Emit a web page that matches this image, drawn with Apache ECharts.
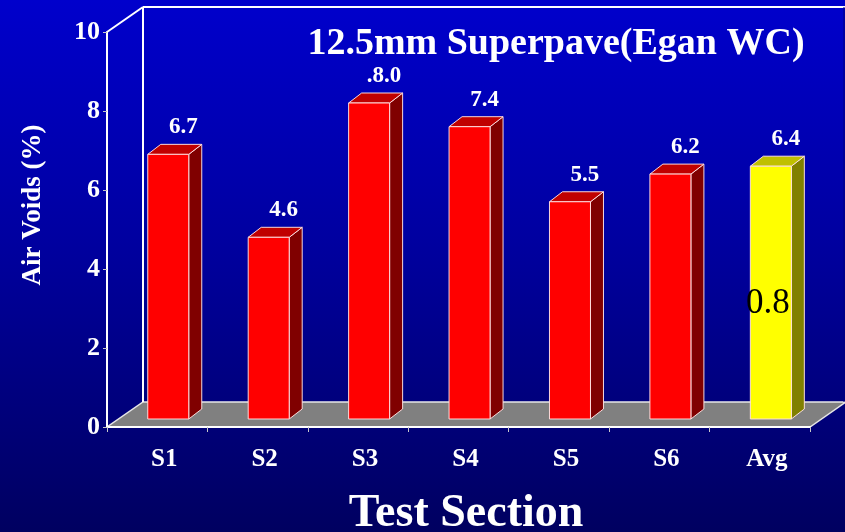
<!DOCTYPE html>
<html>
<head>
<meta charset="utf-8">
<script src="https://cdn.jsdelivr.net/npm/echarts@6/dist/echarts.min.js"></script>
<style>
  html, body { margin: 0; padding: 0; }
  #chart {
    width: 845px; height: 532px;
    background: linear-gradient(to bottom, #0000cc 0%, #0000a0 45%, #000060 100%);
  }
</style>
</head>
<body>
<div id="chart"></div>
<script>
// Air voids per test section, 12.5mm Superpave (Egan WC)
const CATEGORIES = ['S1', 'S2', 'S3', 'S4', 'S5', 'S6', 'Avg'];
const AIR_VOIDS = [6.7, 4.6, 8.0, 7.4, 5.5, 6.2, 6.4];
const VALUE_LABELS = ['6.7', '4.6', '.8.0', '7.4', '5.5', '6.2', '6.4'];
const INNER_LABELS = ['', '', '', '', '', '', '0.8'];
const Y_MIN = 0, Y_MAX = 10, Y_STEP = 2;

const SERIF = "'Liberation Serif', 'Times New Roman', serif";

// plot frame (front plane) and depth of the pseudo-3D box
const G = { left: 107, top: 32, right: 35, bottom: 105 };
const W = 845, H = 532;
const FRONT_X0 = G.left, FRONT_X1 = W - G.right, FRONT_Y0 = G.top, FRONT_Y1 = H - G.bottom;
const DEPTH_X = 36, DEPTH_Y = -25;

const chart = echarts.init(document.getElementById('chart'), null, { renderer: 'canvas' });

function renderBar(params, api) {
  const idx = api.value(0);
  const val = api.value(1);
  const topPt = api.coord([idx, val]);
  const basePt = api.coord([idx, 0]);
  const band = api.size([1, 0])[0];
  const cx = topPt[0] + band * 0.11;
  const halfW = 20.5;
  const lift = 8;
  const dx = 13, dy = -10;
  const l = cx - halfW, r = cx + halfW;
  const yT = topPt[1] - lift, yB = basePt[1] - lift;
  const isAvg = CATEGORIES[idx] === 'Avg';
  const front = isAvg ? '#ffff00' : '#ff0000';
  const side = isAvg ? '#808000' : '#800000';
  const topC = isAvg ? '#c0c000' : '#c00000';
  const edge = 'rgba(255,225,225,0.95)';
  const children = [
    { type: 'polygon', shape: { points: [[r, yT], [r + dx, yT + dy], [r + dx, yB + dy], [r, yB]] },
      style: { fill: side, stroke: edge, lineWidth: 1 } },
    { type: 'polygon', shape: { points: [[l, yT], [r, yT], [r + dx, yT + dy], [l + dx, yT + dy]] },
      style: { fill: topC, stroke: edge, lineWidth: 1 } },
    { type: 'rect', shape: { x: l, y: yT, width: 2 * halfW, height: yB - yT },
      style: { fill: front, stroke: edge, lineWidth: 1 } },
    { type: 'text', x: cx + 15, y: yT - 27,
      style: { text: VALUE_LABELS[idx], fill: '#ffffff', font: 'bold 23px ' + SERIF,
               align: 'center', verticalAlign: 'middle' } }
  ];
  if (INNER_LABELS[idx]) {
    children.push({ type: 'text', x: cx - 3, y: (yT + yB) / 2 + 11,
      style: { text: INNER_LABELS[idx], fill: '#000000', font: '35px ' + SERIF,
               align: 'center', verticalAlign: 'middle' } });
  }
  return { type: 'group', children };
}

const lineStyle = { stroke: '#ffffff', lineWidth: 2 };

chart.setOption({
  backgroundColor: 'transparent',
  animation: false,
  grid: { left: G.left, top: G.top, right: G.right, bottom: G.bottom, outerBoundsMode: 'none' },
  xAxis: {
    type: 'category',
    data: CATEGORIES,
    boundaryGap: true,
    z: 5,
    axisLine: { lineStyle: { color: '#ffffff', width: 2 } },
    axisTick: { show: true, length: 5, lineStyle: { color: '#c8c8c8', width: 1 } },
    axisLabel: { color: '#ffffff', fontFamily: SERIF, fontWeight: 'bold', fontSize: 25, margin: 20,
                 padding: [0, 0, 0, 14] },
    splitLine: { show: false }
  },
  yAxis: {
    type: 'value',
    min: Y_MIN, max: Y_MAX, interval: Y_STEP,
    z: 5,
    axisLine: { show: true, lineStyle: { color: '#ffffff', width: 2 } },
    axisTick: { show: true, length: 4, lineStyle: { color: '#c8c8c8', width: 1 } },
    axisLabel: { color: '#ffffff', fontFamily: SERIF, fontWeight: 'bold', fontSize: 26, margin: 7 },
    splitLine: { show: false }
  },
  graphic: [
    // floor
    { type: 'polygon', z: 1, shape: { points: [
        [FRONT_X0, FRONT_Y1], [FRONT_X1, FRONT_Y1],
        [FRONT_X1 + DEPTH_X, FRONT_Y1 + DEPTH_Y], [FRONT_X0 + DEPTH_X, FRONT_Y1 + DEPTH_Y]] },
      style: { fill: '#808080', stroke: '#e6e6e6', lineWidth: 1.5 } },
    // back wall edges
    { type: 'line', z: 1, shape: { x1: FRONT_X0 + DEPTH_X, y1: FRONT_Y0 + DEPTH_Y, x2: W, y2: FRONT_Y0 + DEPTH_Y }, style: lineStyle },
    { type: 'line', z: 1, shape: { x1: FRONT_X0 + DEPTH_X, y1: FRONT_Y0 + DEPTH_Y, x2: FRONT_X0 + DEPTH_X, y2: FRONT_Y1 + DEPTH_Y }, style: lineStyle },
    { type: 'line', z: 1, shape: { x1: FRONT_X0, y1: FRONT_Y0, x2: FRONT_X0 + DEPTH_X, y2: FRONT_Y0 + DEPTH_Y }, style: lineStyle },
    { type: 'line', z: 1, shape: { x1: FRONT_X1 + DEPTH_X - 2, y1: FRONT_Y0 + DEPTH_Y, x2: FRONT_X1 + DEPTH_X - 2, y2: FRONT_Y1 + DEPTH_Y }, style: { stroke: '#000080', lineWidth: 1 } },
    // titles
    { type: 'text', z: 10, x: 556, y: 44,
      style: { text: '12.5mm Superpave(Egan WC)', fill: '#ffffff', font: 'bold 38px ' + SERIF,
               align: 'center', verticalAlign: 'middle' } },
    { type: 'text', z: 10, x: 466, y: 514,
      style: { text: 'Test Section', fill: '#ffffff', font: 'bold 46px ' + SERIF,
               align: 'center', verticalAlign: 'middle' } },
    { type: 'text', z: 10, x: 33, y: 205, rotation: Math.PI / 2,
      style: { text: 'Air Voids (%)', fill: '#ffffff', font: 'bold 27px ' + SERIF,
               align: 'center', verticalAlign: 'middle' } }
  ],
  series: [{
    type: 'custom',
    z: 3,
    renderItem: renderBar,
    encode: { x: 0, y: 1 },
    data: AIR_VOIDS.map((v, i) => [i, v])
  }]
});
</script>
</body>
</html>
